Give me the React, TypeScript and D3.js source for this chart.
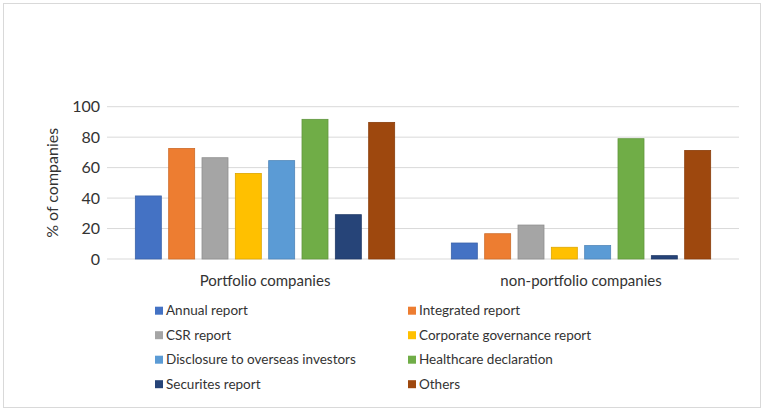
import React, { useEffect, useRef } from 'react';
import * as d3 from 'd3';

const categories = ['Portfolio companies', 'non-portfolio companies'];
const seriesNames = [
  'Annual report',
  'Integrated report',
  'CSR report',
  'Corporate governance report',
  'Disclosure to overseas investors',
  'Healthcare declaration',
  'Securites report',
  'Others',
];
const portfolioValues = [41.4, 72.6, 66.5, 56.2, 64.6, 91.7, 29.1, 89.7];
const nonPortfolioValues = [10.5, 16.6, 22.3, 7.7, 8.8, 79, 2.2, 71.3];
const yTicks = [0, 20, 40, 60, 80, 100];
const colors = ['#4472C4', '#ED7D31', '#A5A5A5', '#FFC000', '#5B9BD5', '#70AD47', '#264478', '#9E480E'];

const W = 765;
const H = 412;
const FONT = 'Lato, "Open Sans", sans-serif';
const TEXT = '#333';

const App: React.FC = () => {
  const svgRef = useRef<SVGSVGElement>(null);

  useEffect(() => {
    if (!svgRef.current) return;
    const svg = d3.select(svgRef.current);
    svg.selectAll('*').remove();

    const plot = { left: 107, right: 739, top: 106.7, bottom: 259 };

    // chart border
    svg.append('rect')
      .attr('x', 3.5).attr('y', 3.5)
      .attr('width', 757).attr('height', 404)
      .attr('fill', '#fff')
      .attr('stroke', '#d9d9d9');

    const x0 = d3.scaleBand<string>()
      .domain(categories)
      .range([plot.left, plot.right]);

    const x1 = d3.scaleBand<string>()
      .domain(seriesNames)
      .range([0, x0.bandwidth()])
      .paddingInner(0.22)
      .paddingOuter(0.85);

    const y = d3.scaleLinear().domain([0, 100]).range([plot.bottom, plot.top]);

    // gridlines
    svg.append('g')
      .selectAll('line')
      .data(yTicks)
      .join('line')
      .attr('x1', plot.left).attr('x2', plot.right)
      .attr('y1', d => y(d)).attr('y2', d => y(d))
      .attr('stroke', '#d9d9d9')
      .attr('stroke-width', 1);

    // y tick labels
    svg.append('g')
      .selectAll('text')
      .data(yTicks)
      .join('text')
      .attr('x', 100)
      .attr('y', d => y(d))
      .attr('dy', '0.35em')
      .attr('text-anchor', 'end')
      .attr('font-family', FONT)
      .attr('font-size', 16)
      .attr('fill', TEXT)
      .text(d => `${d}`);

    // y axis title
    svg.append('text')
      .attr('transform', `translate(52,${(plot.top + plot.bottom) / 2}) rotate(-90)`)
      .attr('text-anchor', 'middle')
      .attr('dy', '0.35em')
      .attr('font-family', FONT)
      .attr('font-size', 16)
      .attr('fill', TEXT)
      .text('% of companies');

    const rows = [portfolioValues, nonPortfolioValues];

    const groups = svg.append('g')
      .selectAll('g')
      .data(categories)
      .join('g')
      .attr('transform', d => `translate(${x0(d)},0)`);

    groups.selectAll('rect')
      .data((_, i) => rows[i].map((v, j) => ({ name: seriesNames[j], value: v, color: colors[j] })))
      .join('rect')
      .attr('x', d => x1(d.name) as number)
      .attr('width', x1.bandwidth())
      .attr('y', d => y(d.value))
      .attr('height', d => y(0) - y(d.value))
      .attr('fill', d => d.color)
      .attr('stroke', d => d3.color(d.color)!.darker(0.4).toString())
      .attr('stroke-width', 0.8);

    // category labels
    svg.append('g')
      .selectAll('text')
      .data(categories)
      .join('text')
      .attr('x', d => (x0(d) as number) + x0.bandwidth() / 2)
      .attr('y', 281)
      .attr('dy', '0.35em')
      .attr('text-anchor', 'middle')
      .attr('font-family', FONT)
      .attr('font-size', 15)
      .attr('fill', TEXT)
      .text(d => d);

    // legend
    const legend = svg.append('g')
      .selectAll('g')
      .data(seriesNames)
      .join('g')
      .attr('transform', (_, i) => `translate(${i % 2 === 0 ? 155 : 408},${310.7 + Math.floor(i / 2) * 24.5})`);

    legend.append('rect')
      .attr('x', 0).attr('y', -4)
      .attr('width', 8).attr('height', 8)
      .attr('fill', (_, i) => colors[i]);

    legend.append('text')
      .attr('x', 11)
      .attr('dy', '0.35em')
      .attr('font-family', FONT)
      .attr('font-size', 13.5)
      .attr('fill', TEXT)
      .text(d => d);
  }, []);

  return (
    <svg
      ref={svgRef}
      width={W}
      height={H}
      style={{ position: 'absolute', left: 0, top: 0 }}
    />
  );
};

export default App;
